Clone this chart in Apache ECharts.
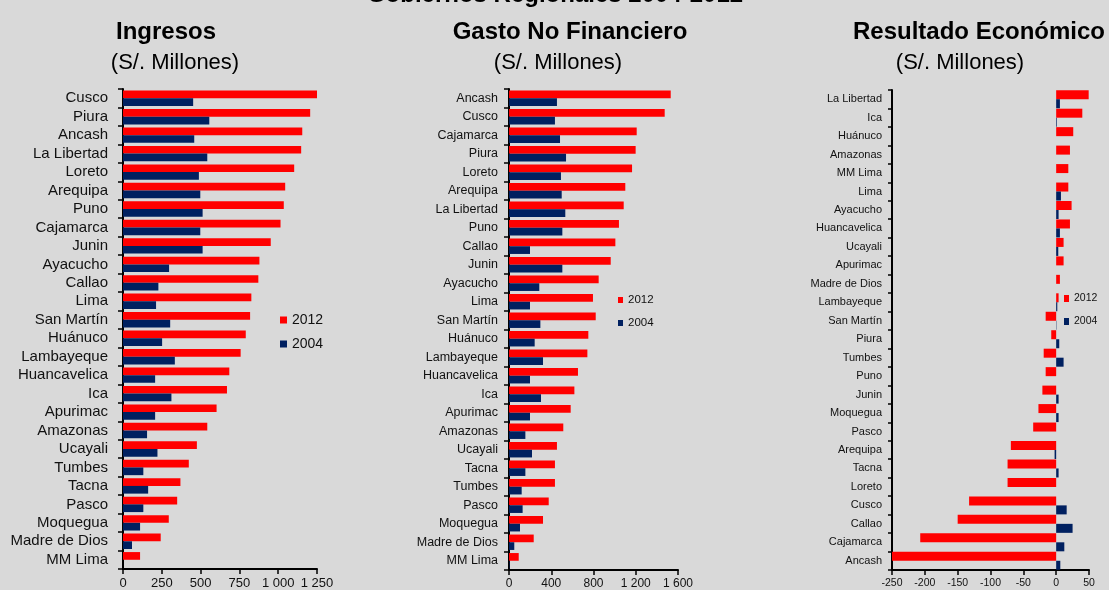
<!DOCTYPE html>
<html><head><meta charset="utf-8">
<script src="https://cdn.jsdelivr.net/npm/echarts@6/dist/echarts.min.js"></script>
<style>html,body{margin:0;padding:0;background:#d9d9d9}#c{width:1109px;height:590px}</style>
</head><body><div id="c"></div>
<script>
// ---- Ingresos ----
var ingCats = ['Cusco','Piura','Ancash','La Libertad','Loreto','Arequipa','Puno','Cajamarca','Junin','Ayacucho','Callao','Lima','San Martín','Huánuco','Lambayeque','Huancavelica','Ica','Apurimac','Amazonas','Ucayali','Tumbes','Tacna','Pasco','Moquegua','Madre de Dios','MM Lima'];
var ing2012 = [1250,1206,1155,1148,1103,1045,1036,1015,952,879,872,827,819,791,758,685,670,603,543,476,424,370,349,295,243,110];
var ing2004 = [452,556,459,543,489,498,513,498,513,297,228,213,304,252,334,207,312,207,155,222,131,162,131,110,58,0];
// ---- Gasto No Financiero ----
var gasCats = ['Ancash','Cusco','Cajamarca','Piura','Loreto','Arequipa','La Libertad','Puno','Callao','Junin','Ayacucho','Lima','San Martín','Huánuco','Lambayeque','Huancavelica','Ica','Apurimac','Amazonas','Ucayali','Tacna','Tumbes','Pasco','Moquegua','Madre de Dios','MM Lima'];
var gas2012 = [1531,1474,1209,1199,1165,1101,1086,1041,1007,963,849,795,821,751,742,653,619,584,514,454,435,435,376,322,234,92];
var gas2004 = [454,435,483,540,492,499,533,505,199,505,287,199,297,243,322,199,303,199,155,218,155,120,129,104,50,4];
// ---- Resultado Económico ----
var resCats = ['La Libertad','Ica','Huánuco','Amazonas','MM Lima','Lima','Ayacucho','Huancavelica','Ucayali','Apurimac','Madre de Dios','Lambayeque','San Martín','Piura','Tumbes','Puno','Junin','Moquegua','Pasco','Arequipa','Tacna','Loreto','Cusco','Callao','Cajamarca','Ancash'];
var res2012 = [49.5,39.8,26,21,18.5,18.5,23.5,21,11.3,11.3,5.7,3.7,-16,-7.5,-19,-16,-21,-27,-35,-69,-74,-74,-132.6,-150,-207,-250];
var res2004 = [5.7,1,0,0,0,7.3,3.7,5.7,3.2,0,0,1.7,0.5,4.7,11.3,0,3.7,3.7,0,-2.4,3.7,0,16,25,12.4,6.3];
// ---- tick settings ----
var ingTicks = {min:0, max:1250, interval:250};
var gasTicks = {min:0, max:1600, interval:400};
var resTicks = {min:-250, max:50, interval:50};
var legendNames = ['2012','2004'];

var RED = '#ff0000', BLUE = '#002060';
var SANS = "'Liberation Sans',Arial,sans-serif";
function thou(v){ return String(v).replace(/\B(?=(\d{3})+(?!\d))/g,' '); }

function xAx(idx, t, size){
  return {gridIndex: idx, type:'value', min:t.min, max:t.max, interval:t.interval,
    axisLine:{show:true, onZero:false, lineStyle:{color:'#000', width:2}},
    axisTick:{show:true, length:5, lineStyle:{color:'#000', width:1.5}},
    splitLine:{show:false},
    axisLabel:{color:'#111', fontFamily:SANS, fontSize:size, margin:8, formatter:thou}};
}
function yAx(idx, cats, size, margin){
  return {gridIndex: idx, type:'category', data:cats, inverse:true,
    axisLine:{show:true, onZero:false, lineStyle:{color:'#000', width:2}},
    axisTick:{show:true, length:5, lineStyle:{color:'#000', width:1.5}},
    axisLabel:{color:'#111', fontFamily:SANS, fontSize:size, margin:margin, interval:0}};
}
function titleItem(text, x, top, size, bold){
  return {text:text, left:x, top:top, textAlign:'center', padding:0,
    textStyle:{fontFamily:SANS, fontSize:size, fontWeight: bold?'bold':'normal', color:'#000'}};
}
function bar(name, gi, data, color, w){
  return {type:'bar', name:name, xAxisIndex:gi, yAxisIndex:gi, data:data, barWidth:w, barGap:'0%',
    itemStyle:{color:color}, animation:false};
}

var yRes = yAx(2, resCats, 11, 10);
yRes.axisLine = {show:false}; yRes.axisTick = {show:false};
var yResZero = {gridIndex:2, type:'category', data:resCats, inverse:true, position:'left',
  axisLine:{show:true, onZero:true, lineStyle:{color:'#000', width:2}},
  axisTick:{show:true, length:4, lineStyle:{color:'#000', width:1.5}},
  axisLabel:{show:false}};

var option = {
  backgroundColor:'#d9d9d9',
  animation:false,
  title:[
    titleItem('Gobiernos Regionales 2004-2012', 555, -17, 24, true),
    titleItem('Ingresos', 166, 20, 24, true),
    titleItem('(S/. Millones)', 175, 52, 22, false),
    titleItem('Gasto No Financiero', 570, 20, 24, true),
    titleItem('(S/. Millones)', 558, 52, 22, false),
    titleItem('Resultado Económico', 979, 20, 24, true),
    titleItem('(S/. Millones)', 960, 52, 22, false)
  ],
  legend:[
    {data:legendNames, orient:'vertical', left:280, top:313, padding:0, itemGap:10, itemWidth:7, itemHeight:7, icon:'rect',
     textStyle:{fontFamily:SANS, fontSize:14, color:'#111'}},
    {data:legendNames, orient:'vertical', left:618, top:294, padding:0, itemGap:11, itemWidth:5, itemHeight:6, icon:'rect',
     textStyle:{fontFamily:SANS, fontSize:11.5, color:'#111'}},
    {data:legendNames, orient:'vertical', left:1064, top:293, padding:0, itemGap:12, itemWidth:5, itemHeight:7, icon:'rect',
     textStyle:{fontFamily:SANS, fontSize:10.5, color:'#111'}}
  ],
  grid:[
    {left:123, right:792, top:89, bottom:19},
    {left:509, right:431, top:89, bottom:20},
    {left:892, right:20, top:90, bottom:20}
  ],
  xAxis:[ xAx(0, ingTicks, 13), xAx(1, gasTicks, 12), xAx(2, resTicks, 10.5) ],
  yAxis:[ yAx(0, ingCats, 15, 15), yAx(1, gasCats, 12.5, 11), yRes, yResZero ],
  series:[
    bar('2012', 0, ing2012, RED, 7.7), bar('2004', 0, ing2004, BLUE, 7.7),
    bar('2012', 1, gas2012, RED, 7.7), bar('2004', 1, gas2004, BLUE, 7.7),
    bar('2012', 2, res2012, RED, 9), bar('2004', 2, res2004, BLUE, 9)
  ]
};
var chart = echarts.init(document.getElementById('c'), null, {renderer:'canvas'});
chart.setOption(option);
</script></body></html>
